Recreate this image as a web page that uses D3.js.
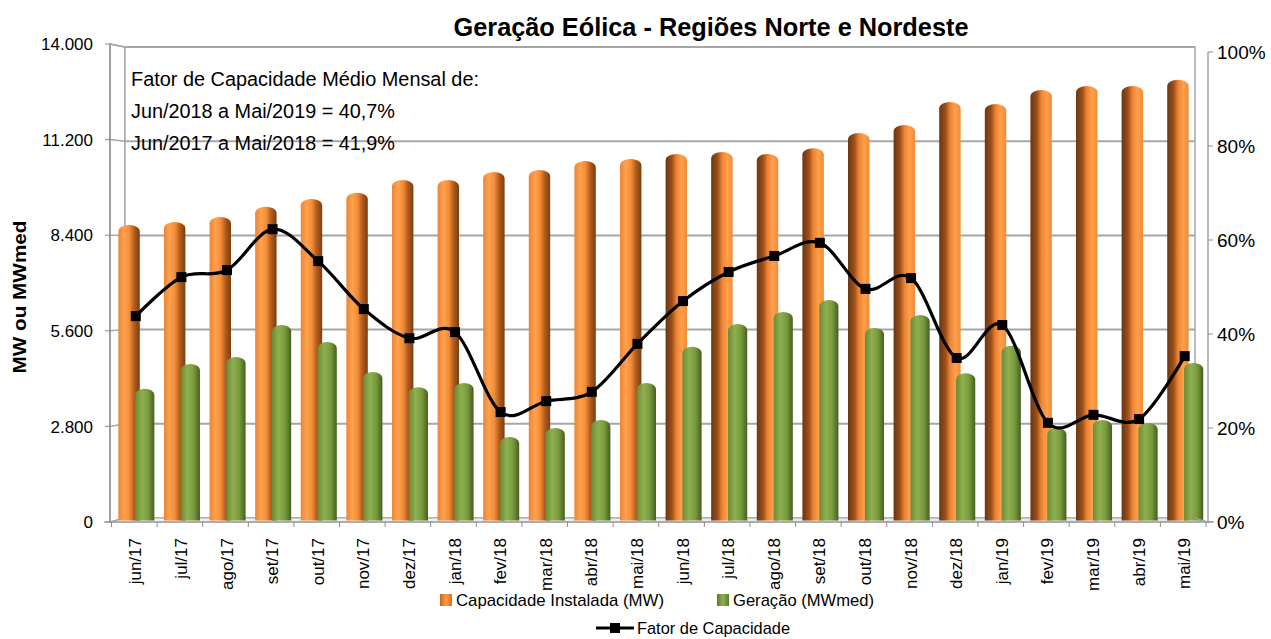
<!DOCTYPE html>
<html>
<head>
<meta charset="utf-8">
<script src="https://cdn.jsdelivr.net/npm/d3@7"></script>
<style>
  html, body { margin: 0; padding: 0; background: #fff; }
  svg { display: block; font-family: "Liberation Sans", Arial, sans-serif; }
</style>
</head>
<body>
<svg id="chart" width="1271" height="639"></svg>
<script>
const categories = ["jun/17","jul/17","ago/17","set/17","out/17","nov/17","dez/17","jan/18","fev/18","mar/18","abr/18","mai/18",
                    "jun/18","jul/18","ago/18","set/18","out/18","nov/18","dez/18","jan/19","fev/19","mar/19","abr/19","mai/19"];
const capacidade = [8700, 8790, 8930, 9230, 9460, 9640, 10020, 10020, 10250, 10310, 10570, 10630,
                    10780, 10840, 10780, 10950, 11390, 11630, 12300, 12240, 12650, 12770, 12770, 12950];
const geracao = [3900, 4630, 4830, 5770, 5270, 4390, 3950, 4070, 2490, 2750, 2990, 4070,
                 5130, 5800, 6150, 6500, 5680, 6060, 4360, 5160, 2750, 2990, 2900, 4660];
const fator = [0.438, 0.521, 0.536, 0.623, 0.555, 0.453, 0.391, 0.404, 0.234, 0.257, 0.277, 0.379,
               0.470, 0.532, 0.566, 0.594, 0.496, 0.519, 0.349, 0.419, 0.211, 0.228, 0.219, 0.353];
const leftTicks = [0, 2800, 5600, 8400, 11200, 14000];
const rightTicks = [0, 0.2, 0.4, 0.6, 0.8, 1.0];
const title = "Geração Eólica - Regiões Norte e Nordeste";
const yTitle = "MW ou MWmed";
const noteLines = ["Fator de Capacidade Médio Mensal de:", "Jun/2018 a Mai/2019 = 40,7%", "Jun/2017 a Mai/2018 = 41,9%"];
const seriesNames = ["Capacidade Instalada (MW)", "Geração (MWmed)", "Fator de Capacidade"];

const svg = d3.select("#chart");
const fmtLeft = v => v === 0 ? "0" : (v / 1000).toFixed(3);

// geometry
const front = {x0: 110, x1: 1208, y: 522};
const wall = {x0: 125, x1: 1195, y0: 47, y1: 518};

const x = d3.scaleBand().domain(categories).range([111.5, 1206]).padding(0);
const yL = d3.scaleLinear().domain([0, 14000]).range([522, 44]);
const yR = d3.scaleLinear().domain([0, 1]).range([522, 52]);
const yWall = d3.scaleLinear().domain([0, 14000]).range([wall.y1, wall.y0]);

// gradients
const defs = svg.append("defs");
function grad(id, stops) {
  const g = defs.append("linearGradient").attr("id", id).attr("x1", "0%").attr("x2", "100%").attr("y1", "0%").attr("y2", "0%");
  stops.forEach(s => g.append("stop").attr("offset", s[0]).attr("stop-color", s[1]));
}
grad("orL", [[0, "#ec8536"], [0.28, "#ffa24e"], [0.52, "#f38c37"], [0.75, "#b05b1c"], [1, "#7a3e12"]]);
grad("orR", [[0, "#6a3512"], [0.3, "#9c5019"], [0.5, "#ec8232"], [0.75, "#ffa04b"], [1, "#ef8a38"]]);
grad("gr", [[0, "#6c8b35"], [0.35, "#8eb04f"], [0.68, "#779a3d"], [1, "#465e1f"]]);
grad("legOr", [[0, "#c8651c"], [0.5, "#ff9a45"], [1, "#d8721f"]]);
grad("legGr", [[0, "#5a7a2a"], [0.5, "#8eb04f"], [1, "#5a7a2a"]]);
grad("floor", [[0, "#f2f2f2"], [1, "#e6e6e6"]]);

// walls
const g = svg.append("g");
g.append("polygon")
  .attr("points", `${front.x0},44 ${wall.x0},${wall.y0} ${wall.x0},${wall.y1} ${front.x0},${front.y}`)
  .attr("fill", "#ffffff").attr("stroke", "#a6a6a6").attr("stroke-width", 1.5);
g.append("rect").attr("x", wall.x0).attr("y", wall.y0).attr("width", wall.x1 - wall.x0).attr("height", wall.y1 - wall.y0)
  .attr("fill", "#ffffff").attr("stroke", "#a6a6a6").attr("stroke-width", 1.5);

// gridlines
leftTicks.filter(t => t > 0).forEach(t => {
  g.append("line").attr("x1", wall.x0).attr("x2", wall.x1).attr("y1", yWall(t)).attr("y2", yWall(t))
    .attr("stroke", "#a6a6a6").attr("stroke-width", 2);
  g.append("line").attr("x1", front.x0).attr("x2", wall.x0).attr("y1", yL(t)).attr("y2", yWall(t))
    .attr("stroke", "#a6a6a6").attr("stroke-width", 1.5);
});

// floor
g.append("polygon")
  .attr("points", `${front.x0},${front.y} ${wall.x0},${wall.y1} ${wall.x1},${wall.y1} ${front.x1},${front.y}`)
  .attr("fill", "url(#floor)").attr("stroke", "#a6a6a6").attr("stroke-width", 1);

// annotation
const note = svg.append("g");
const noteLens = [348, 264, 264];
noteLines.forEach((t, i) => {
  note.append("text").attr("x", 131).attr("y", 86 + i * 32).attr("font-size", 20).attr("fill", "#000")
    .attr("textLength", noteLens[i]).attr("lengthAdjust", "spacingAndGlyphs").text(t);
});

// bars
const bw = x.bandwidth();
function barPath(x0, w, top, bottom) {
  const rx = w / 2, ry = Math.min(6, (bottom - top) / 2);
  return `M${x0},${bottom} L${x0},${top + ry} A${rx},${ry} 0 0 1 ${x0 + w},${top + ry} L${x0 + w},${bottom} Z`;
}
const bars = svg.append("g");
categories.forEach((c, i) => {
  const b = x(c);
  bars.append("path")
    .attr("d", barPath(b + 0.15 * bw, 0.47 * bw, yL(capacidade[i]), 520.5))
    .attr("fill", i < 12 ? "url(#orL)" : "url(#orR)");
  bars.append("path")
    .attr("d", barPath(b + 0.52 * bw, 0.42 * bw, yL(geracao[i]), 520.5))
    .attr("fill", "url(#gr)");
});

// axes lines
const ax = svg.append("g");
ax.append("line").attr("x1", front.x0).attr("x2", front.x0).attr("y1", 44).attr("y2", front.y).attr("stroke", "#8c8c8c").attr("stroke-width", 1.2);
ax.append("line").attr("x1", 104).attr("x2", front.x1 + 6).attr("y1", front.y).attr("y2", front.y).attr("stroke", "#8c8c8c").attr("stroke-width", 1.2);
ax.append("line").attr("x1", front.x1).attr("x2", front.x1).attr("y1", 52).attr("y2", front.y).attr("stroke", "#8c8c8c").attr("stroke-width", 1.2);
ax.append("line").attr("x1", wall.x1).attr("x2", front.x1).attr("y1", wall.y1).attr("y2", front.y).attr("stroke", "#a6a6a6").attr("stroke-width", 1);

// left axis ticks/labels
leftTicks.forEach(t => {
  ax.append("line").attr("x1", 105).attr("x2", front.x0).attr("y1", yL(t)).attr("y2", yL(t)).attr("stroke", "#8c8c8c");
  ax.append("text").attr("x", 93).attr("y", yL(t)).attr("dy", "0.36em").attr("text-anchor", "end")
    .attr("font-size", 17).text(fmtLeft(t));
});
// right axis ticks/labels
rightTicks.forEach(t => {
  ax.append("line").attr("x1", front.x1).attr("x2", front.x1 + 5).attr("y1", yR(t)).attr("y2", yR(t)).attr("stroke", "#8c8c8c");
  ax.append("text").attr("x", 1217).attr("y", yR(t)).attr("dy", "0.36em").attr("text-anchor", "start")
    .attr("font-size", 19).text(d3.format(".0%")(t));
});
// x ticks & labels
categories.concat([null]).forEach((c, i) => {
  const px = c ? x(c) : x.range()[1];
  ax.append("line").attr("x1", px).attr("x2", px).attr("y1", front.y).attr("y2", front.y + 5).attr("stroke", "#8c8c8c");
});
categories.forEach(c => {
  const cx = x(c) + bw / 2 + 1;
  ax.append("text").attr("transform", `translate(${cx + 6},538) rotate(-90)`)
    .attr("text-anchor", "end").attr("font-size", 17).text(c);
});

// line
const pts = categories.map((c, i) => [x(c) + bw / 2 + 1.5, yR(fator[i])]);
svg.append("path").attr("d", d3.line().curve(d3.curveCatmullRom.alpha(0))(pts))
  .attr("fill", "none").attr("stroke", "#000").attr("stroke-width", 3.2);
svg.append("g").selectAll("rect").data(pts).join("rect")
  .attr("x", d => d[0] - 5).attr("y", d => d[1] - 5).attr("width", 10).attr("height", 10).attr("fill", "#000");

// titles
svg.append("text").attr("x", 711).attr("y", 36).attr("text-anchor", "middle").attr("font-size", 25)
  .attr("font-weight", "bold").attr("textLength", 515).attr("lengthAdjust", "spacingAndGlyphs").text(title);
svg.append("text").attr("transform", "translate(26,297) rotate(-90)").attr("text-anchor", "middle")
  .attr("font-size", 19).attr("font-weight", "bold").attr("textLength", 153).attr("lengthAdjust", "spacingAndGlyphs").text(yTitle);

// legend
const lg = svg.append("g");
lg.append("rect").attr("x", 440).attr("y", 594).attr("width", 12).attr("height", 12).attr("fill", "url(#legOr)");
lg.append("text").attr("x", 456).attr("y", 600).attr("dy", "0.36em").attr("font-size", 17)
  .attr("textLength", 208).attr("lengthAdjust", "spacingAndGlyphs").text(seriesNames[0]);
lg.append("rect").attr("x", 717).attr("y", 594).attr("width", 12).attr("height", 12).attr("fill", "url(#legGr)");
lg.append("text").attr("x", 733).attr("y", 600).attr("dy", "0.36em").attr("font-size", 17)
  .attr("textLength", 141).attr("lengthAdjust", "spacingAndGlyphs").text(seriesNames[1]);
lg.append("line").attr("x1", 596).attr("x2", 634).attr("y1", 628).attr("y2", 628).attr("stroke", "#000").attr("stroke-width", 3.2);
lg.append("rect").attr("x", 610).attr("y", 623).attr("width", 10).attr("height", 10).attr("fill", "#000");
lg.append("text").attr("x", 637).attr("y", 628).attr("dy", "0.36em").attr("font-size", 17)
  .attr("textLength", 153).attr("lengthAdjust", "spacingAndGlyphs").text(seriesNames[2]);
</script>
</body>
</html>
